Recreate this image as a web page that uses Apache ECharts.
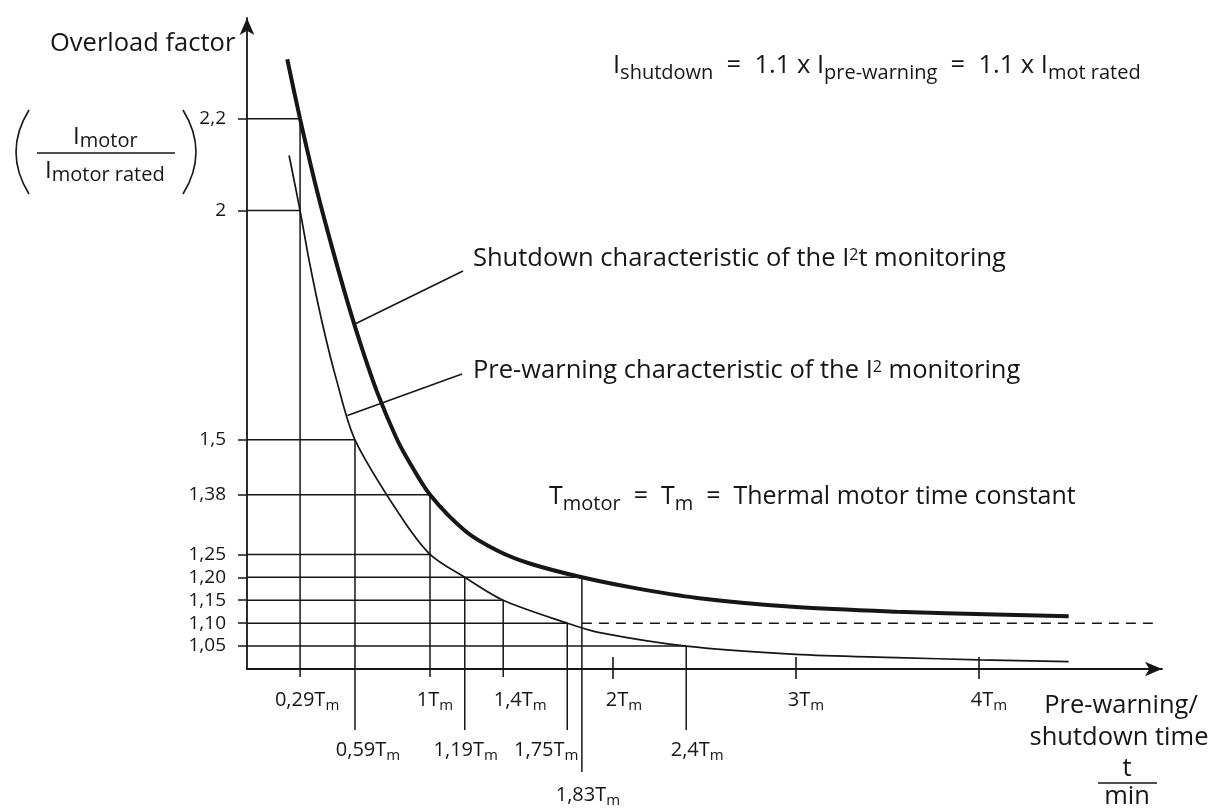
<!DOCTYPE html>
<html>
<head>
<meta charset="utf-8">
<script src="https://cdn.jsdelivr.net/npm/echarts@6/dist/echarts.min.js"></script>
<style>
html,body{margin:0;padding:0;background:#fff}
#c{width:1220px;height:809px}
</style>
</head>
<body>
<div id="c"></div>
<script>
// ---------------- data ----------------
// time in multiples of Tm, overload factor I_motor / I_motor rated
const shutdownT = [0.22, 0.29, 0.38, 0.47, 0.56, 0.63, 0.71, 0.815, 0.886, 1.0, 1.196, 1.375, 1.554, 1.83, 2.10, 2.46, 3.0, 3.55, 4.09, 4.49];
const shutdownI = [2.33, 2.20, 2.047, 1.912, 1.786, 1.697, 1.605, 1.505, 1.452, 1.38, 1.30, 1.257, 1.229, 1.20, 1.178, 1.155, 1.135, 1.125, 1.119, 1.115];
const prewarnT  = [0.23, 0.29, 0.34, 0.41, 0.49, 0.59, 0.83, 1.0, 1.19, 1.4, 1.75, 1.92, 2.4, 3.0, 3.55, 4.0, 4.49];
const prewarnI  = [2.12, 2.0, 1.89, 1.757, 1.629, 1.5, 1.339, 1.25, 1.20, 1.15, 1.10, 1.08, 1.05, 1.032, 1.025, 1.020, 1.016];

// horizontal reading lines: level and the time where they meet a curve
const levelI = [2.2, 2.0, 1.5, 1.38, 1.25, 1.20, 1.15, 1.10, 1.05];
const levelT = [0.29, 0.29, 0.59, 1.0, 1.0, 1.83, 1.4, 1.75, 2.4];
const yTickLabels = ['2,2', '2', '1,5', '1,38', '1,25', '1,20', '1,15', '1,10', '1,05'];

// vertical reading lines: time and the level where they start
const markT = [0.29, 0.59, 1.0, 1.19, 1.4, 1.75, 1.83, 2.4];
const markI = [2.2, 1.5, 1.38, 1.20, 1.15, 1.10, 1.20, 1.05];
const markLabels = ['0,29', '0,59', '1', '1,19', '1,4', '1,75', '1,83', '2,4'];

// plain x-axis ticks
const xTickT = [2, 3, 4];
const xTickLabels = ['2', '3', '4'];

// asymptote (1.1 x rated current)
const asymptoteT = [1.83, 4.95];
const asymptoteI = [1.10, 1.10];

// points on the curves where the note leaders attach
const shutdownNoteAt = [0.587, 1.752];
const prewarnNoteAt  = [0.549, 1.553];

// ---------------- layout / style ----------------
const INK = '#161616';
const FONT = '"Open Sans", "Noto Sans", sans-serif';
const X_MIN = 0, X_MAX = 5, Y_MIN = 1.0, Y_MAX = 2.42;
const markRow = [0, 1, 0, 1, 0, 1, 2, 1];
const markDx = [7, 13, 5, 1, 17, -21, 6, 11];
const tickDx = [11, 10, 10];
const rowLineDepth = [8, 61, 103];
const rowLabelY = [31, 81, 126];

const tmRich = {
  a: { fontSize: 20, lineHeight: 26, fontFamily: FONT, fill: INK },
  s: { fontSize: 15, lineHeight: 26, fontFamily: FONT, fill: INK, padding: [11, 0, 0, 0] }
};
function bigRichOf(size) {
  return {
    n: { fontSize: size, lineHeight: 32, fontFamily: FONT, fill: INK },
    s: { fontSize: 20, lineHeight: 32, fontFamily: FONT, fill: INK, padding: [14, 0, 0, 0] },
    p: { fontSize: 16, lineHeight: 32, fontFamily: FONT, fill: INK, padding: [0, 0, 8, 0] }
  };
}
const bigRich = bigRichOf(25.5);
const midRich = bigRichOf(25);
const fracRich = {
  n: { fontSize: 24, lineHeight: 30, fontFamily: FONT, fill: INK },
  s: { fontSize: 20, lineHeight: 30, fontFamily: FONT, fill: INK, padding: [9, 0, 0, 0] }
};

const chart = echarts.init(document.getElementById('c'), null, { renderer: 'canvas' });

function thin(x1, y1, x2, y2, w) {
  return { type: 'line', silent: true, shape: { x1, y1, x2, y2 }, style: { stroke: INK, lineWidth: w || 1.5 } };
}

const option = {
  backgroundColor: '#ffffff',
  animation: false,
  textStyle: { fontFamily: FONT, color: INK },
  grid: { left: 247, top: 18, right: 58, bottom: 140, containLabel: false },
  xAxis: {
    type: 'value', min: X_MIN, max: X_MAX,
    axisLine: { show: true, lineStyle: { color: INK, width: 1.8 }, symbol: ['none', 'arrow'], symbolSize: [11, 17] },
    axisTick: { show: false }, axisLabel: { show: false }, splitLine: { show: false }
  },
  yAxis: {
    type: 'value', min: Y_MIN, max: Y_MAX,
    axisLine: { show: true, lineStyle: { color: INK, width: 1.8 }, symbol: ['none', 'arrow'], symbolSize: [11, 17] },
    axisTick: { show: true, length: 9, customValues: levelI, lineStyle: { color: INK, width: 1.5 } },
    axisLabel: {
      show: true, customValues: levelI, margin: 21, fontSize: 19, color: INK, fontFamily: FONT,
      formatter: function (v) {
        for (let i = 0; i < levelI.length; i++) if (Math.abs(levelI[i] - v) < 1e-6) return yTickLabels[i];
        return '';
      }
    },
    splitLine: { show: false }
  },
  series: [
    {
      name: 'horizontal', type: 'custom', silent: true, clip: false, z: 2,
      data: levelT.map((t, i) => [t, levelI[i]]),
      renderItem: function (params, api) {
        const p = api.coord([api.value(0), api.value(1)]);
        const a = api.coord([X_MIN, api.value(1)]);
        return thin(a[0], p[1], p[0], p[1], 1.5);
      }
    },
    {
      name: 'vertical', type: 'custom', silent: true, clip: false, z: 2,
      data: markT.map((t, i) => [t, markI[i], i]),
      renderItem: function (params, api) {
        const i = api.value(2);
        const p = api.coord([api.value(0), api.value(1)]);
        const b = api.coord([api.value(0), Y_MIN]);
        const r = markRow[i];
        return {
          type: 'group',
          children: [
            thin(p[0], p[1], p[0], b[1] + rowLineDepth[r], 1.5),
            {
              type: 'text', x: p[0] + markDx[i], y: b[1] + rowLabelY[r],
              style: { text: '{a|' + markLabels[i] + 'T}{s|m}', rich: tmRich, align: 'center', verticalAlign: 'middle', fill: INK }
            }
          ]
        };
      }
    },
    {
      name: 'ticks', type: 'custom', silent: true, clip: false, z: 2,
      data: xTickT.map((t, i) => [t, Y_MIN, i]),
      renderItem: function (params, api) {
        const i = api.value(2);
        const b = api.coord([api.value(0), api.value(1)]);
        return {
          type: 'group',
          children: [
            thin(b[0], b[1] - 12, b[0], b[1] + 10, 1.6),
            {
              type: 'text', x: b[0] + tickDx[i], y: b[1] + rowLabelY[0],
              style: { text: '{a|' + xTickLabels[i] + 'T}{s|m}', rich: tmRich, align: 'center', verticalAlign: 'middle', fill: INK }
            }
          ]
        };
      }
    },
    {
      name: 'asymptote', type: 'line', silent: true, z: 2,
      data: asymptoteT.map((t, i) => [t, asymptoteI[i]]),
      showSymbol: false, symbol: 'none',
      lineStyle: { color: INK, width: 1.5, type: [10, 7] }
    },
    {
      name: 'Pre-warning', type: 'line', silent: true, z: 3,
      data: prewarnT.map((t, i) => [t, prewarnI[i]]),
      showSymbol: false, symbol: 'none', smooth: 0.3,
      lineStyle: { color: INK, width: 1.7 }
    },
    {
      name: 'Shutdown', type: 'line', silent: true, z: 4,
      data: shutdownT.map((t, i) => [t, shutdownI[i]]),
      showSymbol: false, symbol: 'none', smooth: 0.3,
      lineStyle: { color: INK, width: 4 }
    }
  ]
};
chart.setOption(option);

// ---------------- annotations ----------------
const sA = chart.convertToPixel({ gridIndex: 0 }, shutdownNoteAt);
const pA = chart.convertToPixel({ gridIndex: 0 }, prewarnNoteAt);

function txt(x, y, text, rich, align) {
  return { type: 'text', x: x, y: y, silent: true,
    style: { text: text, rich: rich, align: align || 'left', verticalAlign: 'middle', fill: INK } };
}
function paren(x1, y1, cx, cy, x2, y2) {
  return { type: 'bezierCurve', silent: true,
    shape: { x1: x1, y1: y1, x2: x2, y2: y2, cpx1: cx, cpy1: cy },
    style: { fill: null, stroke: INK, lineWidth: 1.6 } };
}

chart.setOption({
  graphic: [
    // y axis title
    txt(50, 44, '{n|Overload factor}', bigRich),
    txt(73, 137, '{n|I}{s|motor}', fracRich),
    thin(37, 153, 175, 153, 1.5),
    txt(45, 171, '{n|I}{s|motor rated}', fracRich),
    paren(29, 110, 3, 152, 29, 194),
    paren(183, 110, 209, 152, 183, 194),
    // formula
    txt(613, 66, '{n|I}{s|shutdown}{n|  =  1.1 x I}{s|pre-warning}{n|  =  1.1 x I}{s|mot rated}', bigRich),
    // curve notes
    txt(473, 259, '{n|Shutdown characteristic of the I}{p|2}{n|t monitoring}', bigRich),
    thin(sA[0], sA[1], 463, 271, 1.6),
    txt(473, 371, '{n|Pre-warning characteristic of the I}{p|2}{n| monitoring}', bigRich),
    thin(pA[0], pA[1], 462, 374, 1.6),
    txt(549, 497, '{n|T}{s|motor}{n|  =  T}{s|m}{n|  =  Thermal motor time constant}', midRich),
    // x axis title
    txt(1121, 706, '{n|Pre-warning/}', bigRich, 'center'),
    txt(1119, 738, '{n|shutdown time}', bigRich, 'center'),
    txt(1127, 769, '{n|t}', bigRich, 'center'),
    thin(1098, 783, 1157, 783, 1.5),
    txt(1127, 797, '{n|min}', bigRich, 'center')
  ]
});
</script>
</body>
</html>
